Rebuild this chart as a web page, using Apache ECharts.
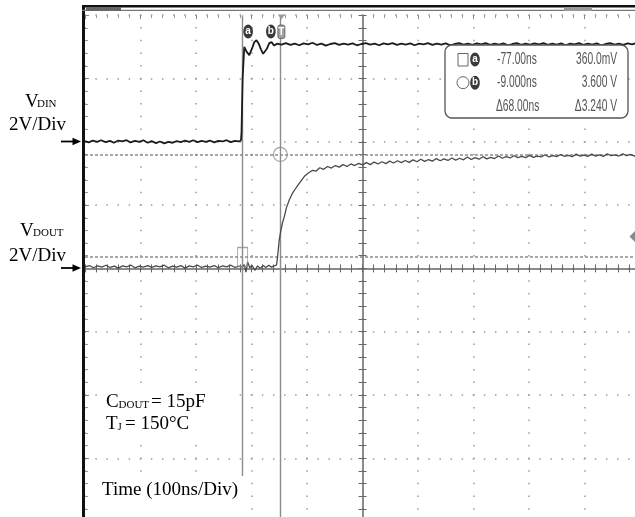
<!DOCTYPE html>
<html>
<head>
<meta charset="utf-8">
<style>
  html, body { margin: 0; padding: 0; background: #fff; }
  #chart { width: 635px; height: 517px; }
</style>
<script src="https://cdn.jsdelivr.net/npm/echarts@6/dist/echarts.min.js"></script>
</head>
<body>
<div id="chart"></div>
<script>
// Scope capture: VDIN (ch1, ground 2 div above centre) and VDOUT (ch2, ground at centre).
// Time is ns from screen centre, 100 ns/div; volts at 2 V/div.

const vdinTrace = [
  [-500,0.02],[-493,-0.02],[-486,0.04],[-478,0.0],[-471,0.05],[-463,-0.01],[-455,0.03],[-448,-0.03],
  [-440,0.04],[-433,0.01],[-425,0.05],[-418,-0.02],[-410,0.03],[-402,0.0],[-395,0.05],[-387,-0.03],
  [-380,0.02],[-372,-0.04],[-365,0.01],[-357,-0.05],[-350,0.0],[-342,-0.03],[-335,0.02],[-327,-0.01],
  [-320,0.04],[-312,0.0],[-305,0.05],[-297,-0.01],[-290,0.03],[-282,0.0],[-275,0.04],[-267,-0.02],
  [-260,0.03],[-252,0.01],[-245,0.05],[-237,-0.01],[-230,0.03],[-223,0.01],[-219,0.04],
  [-218,0.3],[-216,2.0],[-213,3.0],[-209,2.85],[-204,2.74],[-199,2.95],[-195,3.15],[-191,3.21],
  [-187,3.1],[-183,2.92],[-179,2.78],[-176,2.74],[-172,2.95],[-168,3.12],[-164,3.15],[-159,3.04],[-154,3.1],
  [-146,3.07],[-138,3.12],[-130,3.06],[-122,3.1],[-114,3.05],[-106,3.11],[-98,3.08],[-90,3.13],
  [-82,3.06],[-74,3.1],[-66,3.04],[-58,3.09],[-50,3.12],[-42,3.06],[-34,3.1],[-26,3.07],[-18,3.11],
  [-10,3.05],[-2,3.09],[6,3.12],[14,3.07],[22,3.1],[30,3.05],[38,3.11],[46,3.08],[54,3.12],[62,3.06],
  [70,3.1],[78,3.07],[86,3.11],[94,3.05],[102,3.1],[110,3.08],[118,3.12],[126,3.06],[134,3.1],
  [142,3.07],[150,3.11],[158,3.05],[166,3.09],[174,3.12],[182,3.07],[190,3.1],[198,3.06],[206,3.11],
  [214,3.08],[222,3.12],[230,3.06],[238,3.1],[246,3.07],[254,3.11],[262,3.05],[270,3.09],[278,3.12],
  [286,3.06],[294,3.1],[302,3.07],[310,3.11],[318,3.08],[326,3.12],[334,3.06],[342,3.1],[350,3.07],
  [358,3.11],[366,3.05],[374,3.1],[382,3.08],[390,3.12],[398,3.06],[406,3.1],[414,3.07],[422,3.11],
  [430,3.05],[438,3.09],[446,3.12],[454,3.07],[462,3.1],[470,3.06],[478,3.11],[486,3.08],[494,3.12],[502,3.07]
];

const vdoutTrace = [
  [-500,0.05],[-492,0.09],[-485,0.02],[-477,0.08],[-470,0.04],[-462,0.1],[-455,0.03],[-447,0.07],
  [-440,0.01],[-432,0.08],[-425,0.05],[-417,0.1],[-410,0.02],[-402,0.07],[-395,0.04],[-387,0.09],
  [-380,0.03],[-372,0.08],[-365,0.05],[-357,0.1],[-350,0.02],[-342,0.07],[-335,0.04],[-327,0.09],
  [-320,0.01],[-312,0.08],[-305,0.05],[-297,0.1],[-290,0.03],[-282,0.07],[-275,0.04],[-267,0.09],
  [-260,0.02],[-252,0.08],[-245,0.05],[-237,0.1],[-230,0.03],[-222,0.07],[-216,0.05],[-213,0.12],
  [-210,-0.12],[-207,0.2],[-203,0.02],[-199,0.1],[-194,-0.06],[-189,0.08],[-184,0.0],[-179,0.09],
  [-174,0.03],[-169,0.1],[-164,0.04],[-159,0.08],[-155,0.1],[-153,0.37],
  [-150,0.9],[-147,1.21],[-144,1.45],[-141,1.63],[-137,1.92],[-132,2.16],[-126,2.38],[-120,2.54],
  [-115,2.66],[-110,2.78],[-104,2.92],[-97,3.02],[-90,3.1],[-84,3.07],[-77,3.18],[-70,3.13],
  [-63,3.22],[-56,3.17],[-49,3.25],[-42,3.2],[-35,3.28],[-28,3.22],[-21,3.3],[-14,3.25],[-7,3.32],
  [0,3.27],[7,3.34],[14,3.28],[21,3.36],[28,3.3],[35,3.37],[42,3.31],[49,3.39],[56,3.33],[63,3.4],
  [70,3.34],[77,3.41],[84,3.35],[91,3.43],[98,3.37],[105,3.45],[112,3.38],[119,3.44],[126,3.39],
  [133,3.47],[140,3.4],[147,3.46],[154,3.41],[161,3.49],[168,3.42],[175,3.48],[182,3.43],[189,3.52],
  [196,3.44],[203,3.5],[210,3.45],[217,3.53],[224,3.46],[231,3.51],[238,3.47],[245,3.55],[252,3.48],
  [259,3.53],[266,3.49],[273,3.56],[280,3.5],[287,3.54],[294,3.5],[301,3.57],[308,3.51],[315,3.55],
  [322,3.52],[329,3.59],[336,3.52],[343,3.56],[350,3.53],[357,3.6],[364,3.54],[371,3.57],[378,3.53],
  [385,3.61],[392,3.55],[399,3.58],[406,3.54],[413,3.61],[420,3.55],[427,3.59],[434,3.54],[441,3.62],
  [448,3.56],[455,3.59],[462,3.55],[469,3.62],[476,3.56],[483,3.6],[490,3.55],[497,3.61],[504,3.57]
];

const cursorTimes = [-216, -148];   // cursor a, b (ns from screen centre)
const cursorVolts = [0.36, 3.6];    // on VDOUT
const readoutTimes = ['-77.00ns', '-9.000ns', '\u039468.00ns'];
const readoutVolts = ['360.0mV', '3.600 V', '\u03943.240 V'];

const chart = echarts.init(document.getElementById('chart'));

const DOT = '#9a9a9a';
const AX = '#666';
const SERIF = '"Liberation Serif", "Times New Roman", serif';
const SANS = '"Liberation Sans", Arial, sans-serif';

function hidden(extra) {
  return Object.assign({
    type: 'value',
    axisLabel: { show: false },
    splitLine: { show: false },
    axisLine: { show: false },
    axisTick: { show: false },
    minorTick: { show: false },
  }, extra);
}

function txt(x, y, text, size) {
  return {
    type: 'text', x: x, y: y, z: 101,
    style: {
      text: text, x: 0, y: 0, fill: '#000',
      font: size + 'px ' + SERIF, textAlign: 'left', textVerticalAlign: 'middle',
    },
  };
}

function readText(x, y, text, align) {
  return {
    type: 'text', x: x, y: y, z: 102, scaleX: 0.64,
    style: { text: text, x: 0, y: 0, fill: '#555', font: '16px ' + SANS, textAlign: align, textVerticalAlign: 'middle' },
  };
}

function arrow(y) {
  return [
    { type: 'line', z: 101, shape: { x1: 61, y1: y, x2: 75, y2: y }, style: { stroke: '#000', lineWidth: 1.8 } },
    { type: 'polygon', z: 101, shape: { points: [[81, y], [72.5, y - 3.8], [72.5, y + 3.8]] }, style: { fill: '#000' } },
  ];
}

function badge(cx, cy, letter) {
  return [
    { type: 'ellipse', z: 103, shape: { cx: cx, cy: cy, rx: 4.8, ry: 7 }, style: { fill: '#3a3a3a' } },
    { type: 'text', z: 104, x: cx, y: cy, style: { text: letter, x: 0, y: 0, fill: '#fff', font: 'bold 10px ' + SANS, textAlign: 'center', textVerticalAlign: 'middle' } },
  ];
}

const staticGraphics = [].concat(
  // frame: left border and top status bar
  [
    { type: 'line', z: 100, shape: { x1: 83.5, y1: 5, x2: 83.5, y2: 517 }, style: { stroke: '#111', lineWidth: 3 } },
    { type: 'line', z: 100, shape: { x1: 82, y1: 6.3, x2: 635, y2: 6.3 }, style: { stroke: '#111', lineWidth: 2.6 } },
    { type: 'line', z: 100, shape: { x1: 82, y1: 10.3, x2: 635, y2: 10.3 }, style: { stroke: '#777', lineWidth: 1.2 } },
    { type: 'rect', z: 100, shape: { x: 86, y: 7, width: 35, height: 4 }, style: { fill: '#666' } },
    { type: 'rect', z: 100, shape: { x: 564, y: 7, width: 28, height: 4 }, style: { fill: '#999' } },
    // ch2 level marker on right edge
    { type: 'polygon', z: 100, shape: { points: [[629.5, 236.5], [635, 231], [635, 242]] }, style: { fill: '#888' } },
  ],
  // channel labels on the left
  [
    txt(25, 102.5, 'V', 19),
    txt(37, 104.5, 'DIN', 11),
    txt(9, 125, '2V/Div', 19),
    txt(20, 231, 'V', 19),
    txt(33, 233, 'DOUT', 11),
    txt(9, 256, '2V/Div', 19),
  ],
  arrow(141.5),
  arrow(268),
  // conditions and time base, on white boxes
  [
    { type: 'rect', z: 100, shape: { x: 100, y: 387, width: 132, height: 53 }, style: { fill: '#fff' } },
    txt(106, 402.5, 'C', 19),
    txt(118.5, 405, 'DOUT', 11),
    txt(151, 402.5, '= 15pF', 19),
    txt(106, 424.5, 'T', 19),
    txt(117.5, 427, 'J', 11),
    txt(125, 424.5, '= 150\u00b0C', 19),
    { type: 'rect', z: 100, shape: { x: 99, y: 476, width: 147, height: 41 }, style: { fill: '#fff' } },
    txt(102, 490.5, 'Time (100ns/Div)', 19),
  ],
  // cursor readout
  [
    { type: 'rect', z: 101, shape: { x: 445, y: 45, width: 183, height: 73, r: 7 }, style: { fill: '#fff', stroke: '#555', lineWidth: 1.3 } },
    { type: 'rect', z: 102, shape: { x: 458, y: 53.5, width: 10, height: 12.5 }, style: { fill: 'none', stroke: '#666', lineWidth: 1 } },
    { type: 'circle', z: 102, shape: { cx: 463, cy: 82.7, r: 6 }, style: { fill: 'none', stroke: '#666', lineWidth: 1 } },
  ],
  badge(475, 59.5, 'a'),
  badge(475, 82.7, 'b'),
  [
    readText(497, 59.5, readoutTimes[0], 'left'),
    readText(497, 82.7, readoutTimes[1], 'left'),
    readText(496, 106.5, readoutTimes[2], 'left'),
    readText(617, 59.5, readoutVolts[0], 'right'),
    readText(617, 82.7, readoutVolts[1], 'right'),
    readText(617, 106.5, readoutVolts[2], 'right'),
  ]
);

chart.setOption({
  animation: false,
  backgroundColor: '#fff',
  grid: { left: 85, top: 15.2, width: 555, height: 506.4, containLabel: false, outerBoundsMode: 'none' },
  xAxis: [
    hidden({
      min: -500, max: 500, interval: 100, position: 'bottom',
      axisLine: { show: true, onZero: true, onZeroAxisIndex: 1, lineStyle: { color: AX, width: 1.5 } },
      axisTick: { show: true, length: 4, lineStyle: { color: AX, width: 1 } },
      minorTick: { show: true, splitNumber: 5, length: 4, lineStyle: { color: AX, width: 1 } },
      splitLine: { show: true, lineStyle: { color: DOT, width: 1.5, type: [1.5, 11.16], dashOffset: 0.75 } },
    }),
    hidden({
      min: -500, max: 500, interval: 100, position: 'top',
      axisLine: { show: false, onZero: true, onZeroAxisIndex: 1 },
      axisTick: { show: true, length: 4, lineStyle: { color: AX, width: 1 } },
      minorTick: { show: true, splitNumber: 5, length: 4, lineStyle: { color: AX, width: 1 } },
    }),
    hidden({
      min: -500, max: 500, interval: 100, position: 'top', offset: 0,
      axisLine: { show: false, onZero: false },
      axisTick: { show: true, inside: true, length: 4, lineStyle: { color: '#888', width: 1 } },
      minorTick: { show: true, splitNumber: 5, length: 3, lineStyle: { color: '#999', width: 1 } },
    }),
  ],
  yAxis: [
    // ch1 (VDIN): ground 2 div above centre
    hidden({
      min: -12, max: 4, interval: 2, position: 'left',
      axisLine: { show: true, onZero: true, onZeroAxisIndex: 0, lineStyle: { color: AX, width: 1.5 } },
      axisTick: { show: true, length: 4, lineStyle: { color: AX, width: 1 } },
      minorTick: { show: true, splitNumber: 5, length: 4, lineStyle: { color: AX, width: 1 } },
    }),
    // ch2 (VDOUT): ground at centre
    hidden({
      min: -8, max: 8, interval: 2, position: 'right',
      axisLine: { show: false, onZero: true, onZeroAxisIndex: 0 },
      axisTick: { show: true, length: 4, lineStyle: { color: AX, width: 1 } },
      minorTick: { show: true, splitNumber: 5, length: 4, lineStyle: { color: AX, width: 1 } },
      splitLine: { show: true, lineStyle: { color: DOT, width: 1.5, type: [1.5, 9.6], dashOffset: 0.75 } },
    }),
    hidden({
      min: -8, max: 8, interval: 2, position: 'left', offset: 0,
      axisLine: { show: false, onZero: false },
      axisTick: { show: true, inside: true, length: 4, lineStyle: { color: '#888', width: 1 } },
      minorTick: { show: true, splitNumber: 5, length: 3, lineStyle: { color: '#999', width: 1 } },
    }),
  ],
  series: [
    {
      name: 'VDIN', type: 'line', xAxisIndex: 0, yAxisIndex: 0, data: vdinTrace,
      showSymbol: false, z: 5, lineStyle: { color: '#1c1c1c', width: 1.8 },
    },
    {
      name: 'VDOUT', type: 'line', xAxisIndex: 0, yAxisIndex: 1, data: vdoutTrace,
      showSymbol: false, z: 5, lineStyle: { color: '#4a4a4a', width: 1.3 },
      markLine: {
        silent: true, symbol: ['none', 'none'], label: { show: false },
        lineStyle: { color: '#8c8c8c', width: 1.4, type: 'solid' },
        data: [
          { xAxis: cursorTimes[0] },
          { xAxis: cursorTimes[1] },
          { yAxis: cursorVolts[0], lineStyle: { type: [3, 2], color: '#8c8c8c', width: 1.5 } },
          { yAxis: cursorVolts[1], lineStyle: { type: [3, 2], color: '#8c8c8c', width: 1.5 } },
        ],
      },
    },
    {
      name: 'cursors', type: 'scatter', xAxisIndex: 0, yAxisIndex: 1, z: 6, silent: true,
      itemStyle: { color: 'rgba(0,0,0,0)', borderColor: '#8c8c8c', borderWidth: 1.2 },
      data: [
        { value: [cursorTimes[0], cursorVolts[0]], symbol: 'rect', symbolSize: [10, 19] },
        { value: [cursorTimes[1], cursorVolts[1]], symbol: 'circle', symbolSize: 14 },
      ],
    },
  ],
  graphic: staticGraphics,
});

// cursor badges at the top follow the cursor lines
const ax = chart.convertToPixel({ xAxisIndex: 0 }, cursorTimes[0]);
const bx = chart.convertToPixel({ xAxisIndex: 0 }, cursorTimes[1]);
chart.setOption({
  graphic: staticGraphics.concat(
    badge(ax + 5.5, 31.5, 'a'),
    badge(bx - 9.5, 31.5, 'b'),
    [
      { type: 'rect', z: 103, shape: { x: bx - 2.5, y: 25, width: 7, height: 13.5, r: 2 }, style: { fill: '#a0a0a0', stroke: '#555', lineWidth: 0.8 } },
      { type: 'text', z: 104, x: bx + 1, y: 31.8, style: { text: 'T', x: 0, y: 0, fill: '#fff', font: 'bold 10px ' + SANS, textAlign: 'center', textVerticalAlign: 'middle' } },
      { type: 'polygon', z: 103, shape: { points: [[bx - 2.5, 14.5], [bx + 4.5, 14.5], [bx + 1, 19.5]] }, style: { fill: '#999' } },
    ]
  ),
});
</script>
</body>
</html>
